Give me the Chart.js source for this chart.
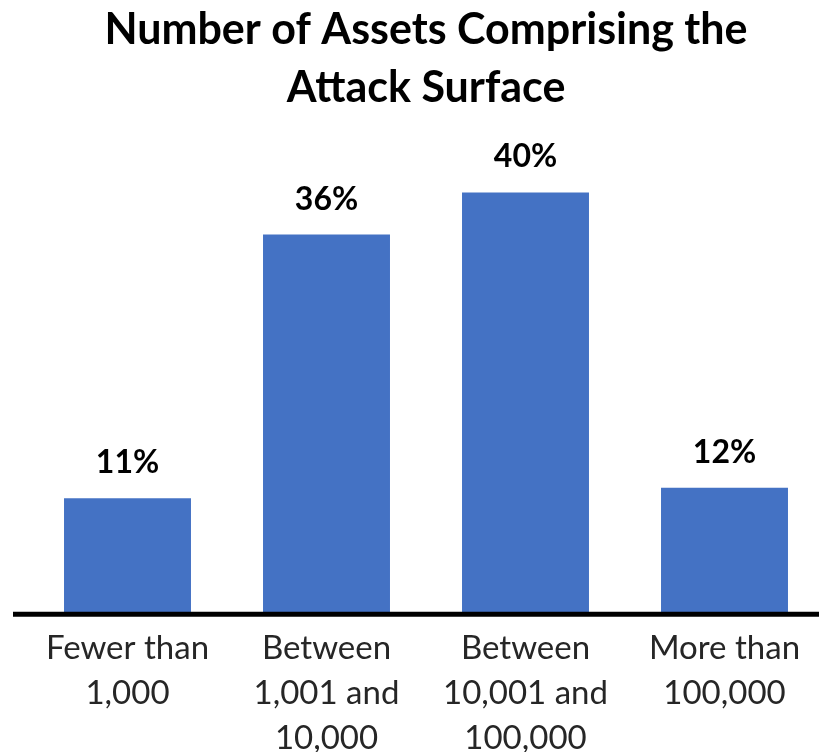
<!DOCTYPE html>
<html lang="en">
<head>
    <meta charset="UTF-8">
    <title>Number of Assets Comprising the Attack Surface</title>
    <script src="https://cdn.jsdelivr.net/npm/chart.js"></script>
    <style>
        html, body {
            margin: 0;
            padding: 0;
            background: #ffffff;
            overflow: hidden;
        }
        .wrap {
            position: relative;
            width: 824px;
            height: 773px;
        }
    </style>
</head>
<body>
    <div class="wrap">
        <canvas id="myChart"></canvas>
    </div>

    <script>
        // data
        var titleLines = ['Number of Assets Comprising the', 'Attack Surface'];
        var categories = [
            ['Fewer than', '1,000'],
            ['Between', '1,001 and', '10,000'],
            ['Between', '10,001 and', '100,000'],
            ['More than', '100,000']
        ];
        var shares = [11, 36, 40, 12];

        var FONT = 'Lato, "Open Sans", sans-serif';

        // value labels over the bars
        var barLabels = {
            id: 'barLabels',
            afterDatasetsDraw: function(chart) {
                var ctx = chart.ctx;
                var meta = chart.getDatasetMeta(0);
                ctx.save();
                ctx.font = 'bold 32px ' + FONT;
                ctx.fillStyle = '#000000';
                ctx.textAlign = 'center';
                ctx.textBaseline = 'alphabetic';
                meta.data.forEach(function(bar, i) {
                    ctx.fillText(shares[i] + '%', bar.x, bar.y - 25);
                });
                ctx.restore();
            }
        };

        // thick black baseline, a bit wider than the plot area
        var baseLine = {
            id: 'baseLine',
            afterDatasetsDraw: function(chart) {
                var ctx = chart.ctx;
                var y = chart.scales.y.getPixelForValue(0);
                ctx.save();
                ctx.strokeStyle = '#000000';
                ctx.lineWidth = 5;
                ctx.beginPath();
                ctx.moveTo(chart.chartArea.left - 15, y);
                ctx.lineTo(chart.width, y);
                ctx.stroke();
                ctx.restore();
            }
        };

        var ctx = document.getElementById('myChart').getContext('2d');
        var myChart = new Chart(ctx, {
            type: 'bar',
            data: {
                labels: categories,
                datasets: [{
                    data: shares,
                    backgroundColor: '#4472C4',
                    borderWidth: 0,
                    barPercentage: 0.638,
                    categoryPercentage: 1.0
                }]
            },
            options: {
                responsive: true,
                maintainAspectRatio: false,
                animation: false,
                layout: {
                    padding: { left: 28, right: 0, top: 0, bottom: 0 }
                },
                plugins: {
                    legend: { display: false },
                    tooltip: { enabled: false },
                    title: {
                        display: true,
                        text: titleLines,
                        color: '#000000',
                        font: { family: FONT, size: 43, weight: 'bold', lineHeight: 1.35 },
                        padding: { top: 1, bottom: 31 }
                    }
                },
                scales: {
                    x: {
                        grid: { display: false, drawTicks: false },
                        border: { display: false },
                        ticks: {
                            color: '#262626',
                            font: { family: FONT, size: 33, lineHeight: 1.36 },
                            padding: 12,
                            maxRotation: 0,
                            autoSkip: false
                        }
                    },
                    y: {
                        display: false,
                        min: 0,
                        max: 44.2
                    }
                }
            },
            plugins: [barLabels, baseLine]
        });
    </script>
</body>
</html>
